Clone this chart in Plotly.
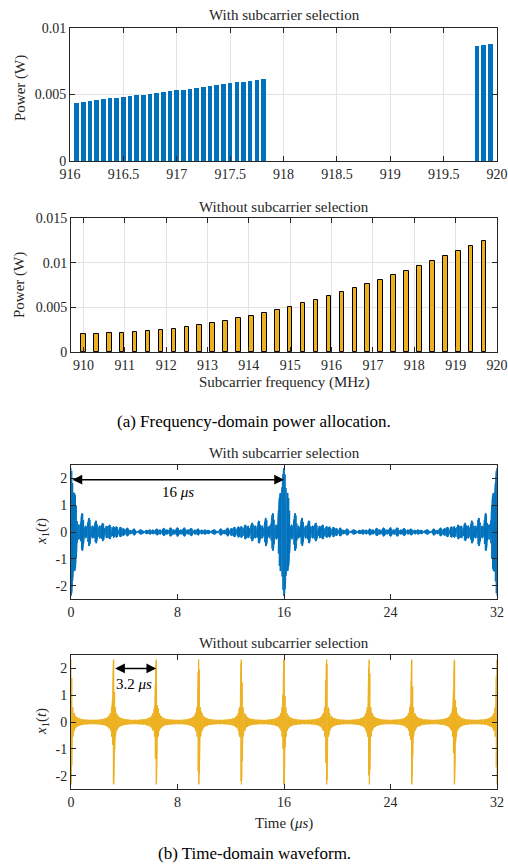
import numpy as np
import plotly.graph_objects as go

# ---------------- data ----------------
# With subcarrier selection (frequency MHz, power W)
freq_sel = [916.0625, 916.125, 916.1875, 916.25, 916.3125, 916.375, 916.4375, 916.5,
            916.5625, 916.625, 916.6875, 916.75, 916.8125, 916.875, 916.9375, 917.0,
            917.0625, 917.125, 917.1875, 917.25, 917.3125, 917.375, 917.4375, 917.5,
            917.5625, 917.625, 917.6875, 917.75, 917.8125,
            919.8125, 919.875, 919.9375]
power_sel = [0.004375, 0.004425, 0.0045, 0.00455, 0.004625, 0.0047, 0.00475, 0.0048,
             0.004875, 0.00495, 0.005, 0.005075, 0.005125, 0.0052, 0.00525, 0.005325,
             0.005375, 0.00545, 0.005525, 0.005575, 0.00565, 0.005725, 0.005775, 0.00585,
             0.005925, 0.005975, 0.00605, 0.006125, 0.0062,
             0.00866, 0.00873, 0.00883]

# Without subcarrier selection
freq_all = [910.0, 910.3125, 910.625, 910.9375, 911.25, 911.5625, 911.875, 912.1875,
            912.5, 912.8125, 913.125, 913.4375, 913.75, 914.0625, 914.375, 914.6875,
            915.0, 915.3125, 915.625, 915.9375, 916.25, 916.5625, 916.875, 917.1875,
            917.5, 917.8125, 918.125, 918.4375, 918.75, 919.0625, 919.375, 919.6875]
power_all = [0.00207, 0.00207, 0.00211, 0.00218, 0.00229, 0.00237, 0.00248, 0.00263,
             0.00282, 0.00301, 0.00327, 0.0035, 0.00376, 0.00406, 0.0044, 0.0047,
             0.00508, 0.00545, 0.00583, 0.00628, 0.00669, 0.00714, 0.00759, 0.00808,
             0.00861, 0.0091, 0.00962, 0.01015, 0.01071, 0.01128, 0.01184, 0.01241]

t_ticks = [0, 8, 16, 24, 32]
amp_ticks = [-2, -1, 0, 1, 2]
amp_labels = ["-2", "-1", "0", "1", "2"]

BLUE = "#0072BD"
GOLD = "#EDB120"
FONT = "Liberation Serif, Times New Roman, Times, serif"
AX = "#262626"


def waveform(freqs, powers, t_end=32.0, n=471041, bins=1400):
    """x1(t) = sum sqrt(P_n) cos(2 pi f_n t), t in us, f in MHz; min/max decimated."""
    t = np.linspace(0.0, t_end, n)
    x = np.zeros_like(t)
    for f, p in zip(freqs, powers):
        x += np.sqrt(p) * np.cos(2 * np.pi * f * t)
    k = (n - 1) // bins
    xs = x[: k * bins].reshape(bins, k)
    mx = xs.max(axis=1)
    mn = xs.min(axis=1)
    tc = t[: k * bins].reshape(bins, k).mean(axis=1)
    tt = np.repeat(tc, 2)
    yy = np.empty(2 * bins)
    yy[0::2] = mx
    yy[1::2] = mn
    tt = np.concatenate([[0.0, 0.0], tt, [t_end, t_end]])
    yy = np.concatenate([[x[0], -x[0]], yy, [x[-1], -x[-1]]])
    return tt, yy


t1, y1 = waveform(freq_sel, power_sel)
t2, y2 = waveform(freq_all, power_all)

fig = go.Figure()

fig.add_trace(go.Bar(x=freq_sel, y=power_sel, width=0.043, marker=dict(color=BLUE, line=dict(width=0)),
                     xaxis="x", yaxis="y"))
fig.add_trace(go.Bar(x=freq_all, y=power_all, width=0.11,
                     marker=dict(color=GOLD, line=dict(color="black", width=1)),
                     xaxis="x2", yaxis="y2"))
fig.add_trace(go.Scatter(x=t1, y=y1, mode="lines", line=dict(color=BLUE, width=1),
                         xaxis="x3", yaxis="y3"))
fig.add_trace(go.Scatter(x=t2, y=y2, mode="lines", line=dict(color=GOLD, width=1),
                         xaxis="x4", yaxis="y4"))

W, H = 508, 867
xl, xr = 70 / W, 497 / W


def ydom(top, bot):
    return [1 - bot / H, 1 - top / H]


common = dict(showline=True, linecolor=AX, linewidth=1, mirror="allticks", ticks="inside",
              ticklen=5, tickcolor=AX, tickfont=dict(family=FONT, size=14, color=AX),
              zeroline=False, automargin=False)

fig.update_layout(
    width=W, height=H, margin=dict(l=0, r=0, t=0, b=0, autoexpand=False),
    paper_bgcolor="white", plot_bgcolor="white", showlegend=False, bargap=0,
    font=dict(family=FONT, size=14, color=AX),
    xaxis=dict(domain=[xl, xr], anchor="y", range=[916, 920],
               tickvals=[916, 916.5, 917, 917.5, 918, 918.5, 919, 919.5, 920],
               ticktext=["916", "916.5", "917", "917.5", "918", "918.5", "919", "919.5", "920"],
               showgrid=True, gridcolor="#e3e3e3", **common),
    yaxis=dict(domain=ydom(28, 161), anchor="x", range=[0, 0.01],
               tickvals=[0, 0.005, 0.01], ticktext=["0", "0.005", "0.01"],
               showgrid=True, gridcolor="#e3e3e3", **common),
    xaxis2=dict(domain=[71 / W, xr], anchor="y2", range=[909.7, 920],
                tickvals=list(range(910, 921)), ticktext=[str(v) for v in range(910, 921)],
                showgrid=True, gridcolor="#e3e3e3", **common),
    yaxis2=dict(domain=ydom(218, 352), anchor="x2", range=[0, 0.015],
                tickvals=[0, 0.005, 0.01, 0.015], ticktext=["0", "0.005", "0.01", "0.015"],
                showgrid=True, gridcolor="#e3e3e3", **common),
    xaxis3=dict(domain=[71 / W, xr], anchor="y3", range=[0, 32], tickvals=t_ticks,
                showgrid=False, **common),
    yaxis3=dict(domain=ydom(465, 599), anchor="x3", range=[-2.5, 2.5],
                tickvals=amp_ticks, ticktext=amp_labels, showgrid=False, **common),
    xaxis4=dict(domain=[71 / W, xr], anchor="y4", range=[0, 32], tickvals=t_ticks,
                showgrid=False, **common),
    yaxis4=dict(domain=ydom(655, 789), anchor="x4", range=[-2.5, 2.5],
                tickvals=amp_ticks, ticktext=amp_labels, showgrid=False, **common),
)

cx = (71 + 497) / 2 / W


def ann(text, x, ypx, size=15, angle=0, color=AX):
    fig.add_annotation(text=text, x=x, y=1 - ypx / H, xref="paper", yref="paper",
                       showarrow=False, textangle=angle, xanchor="center", yanchor="middle",
                       font=dict(family=FONT, size=size, color=color))


ann("With subcarrier selection", cx, 15)
ann("Without subcarrier selection", cx, 207)
ann("With subcarrier selection", cx, 453)
ann("Without subcarrier selection", cx, 643)
ann("Power (W)", 20 / W, 88, angle=-90)
ann("Power (W)", 20 / W, 285, angle=-90)
ann("<i>x</i><sub>1</sub>(<i>t</i>)", 42 / W, 532, angle=-90)
ann("<i>x</i><sub>1</sub>(<i>t</i>)", 42 / W, 722, angle=-90)
ann("Subcarrier frequency (MHz)", cx, 382)
ann("Time (<i>μs</i>)", cx, 823)
ann("(a) Frequency-domain power allocation.", 0.5, 421, size=17, color="black")
ann("(b) Time-domain waveform.", 0.5, 853, size=17, color="black")

# arrows
for xr_, yr_, x0, x1_, yv in [("x3", "y3", 0, 16, 1.95), ("x4", "y4", 3.2, 6.4, 2.0)]:
    fig.add_annotation(x=x1_, y=yv, ax=x0, ay=yv, xref=xr_, yref=yr_, axref=xr_, ayref=yr_,
                       text="", showarrow=True, arrowhead=2, startarrowhead=2,
                       arrowside="end+start", arrowsize=1.3, startarrowsize=1.3,
                       arrowwidth=1.5, arrowcolor="black")

fig.add_annotation(x=8, y=1.5, xref="x3", yref="y3", text="16 <i>μs</i>", showarrow=False,
                   font=dict(family=FONT, size=15, color="black"))
fig.add_annotation(x=4.7, y=1.4, xref="x4", yref="y4", text="3.2 <i>μs</i>", showarrow=False,
                   font=dict(family=FONT, size=15, color="black"))

fig.write_html("out.html")
